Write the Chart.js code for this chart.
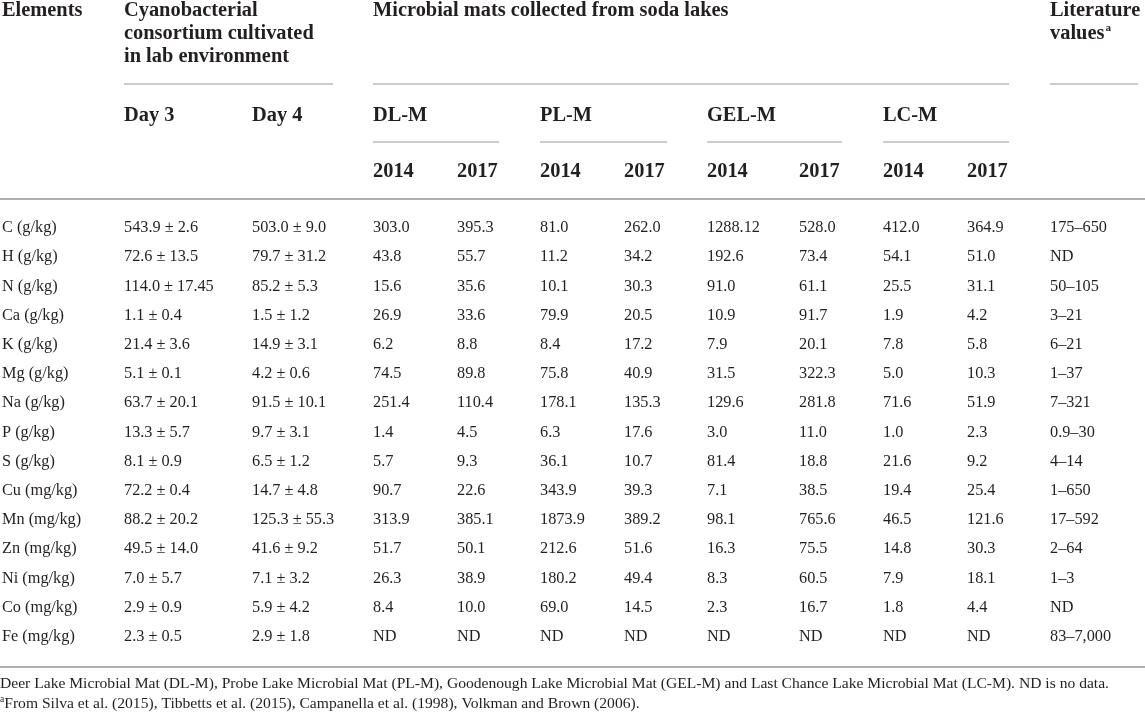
<!DOCTYPE html>
<html>
<head>
<meta charset="utf-8">
<script src="https://cdn.jsdelivr.net/npm/chart.js@4"></script>
<style>
  html, body { margin: 0; padding: 0; background: #ffffff; }
  #wrap { width: 1145px; height: 714px; position: relative; }
</style>
</head>
<body>
<div id="wrap"><canvas id="c" width="1145" height="714"></canvas></div>
<script>
// ---------------- DATA ----------------
const elements = ['C (g/kg)', 'H (g/kg)', 'N (g/kg)', 'Ca (g/kg)', 'K (g/kg)', 'Mg (g/kg)', 'Na (g/kg)',
  'P (g/kg)', 'S (g/kg)', 'Cu (mg/kg)', 'Mn (mg/kg)', 'Zn (mg/kg)', 'Ni (mg/kg)', 'Co (mg/kg)', 'Fe (mg/kg)'];

const day3 = ['543.9 ± 2.6', '72.6 ± 13.5', '114.0 ± 17.45', '1.1 ± 0.4', '21.4 ± 3.6', '5.1 ± 0.1',
  '63.7 ± 20.1', '13.3 ± 5.7', '8.1 ± 0.9', '72.2 ± 0.4', '88.2 ± 20.2', '49.5 ± 14.0', '7.0 ± 5.7',
  '2.9 ± 0.9', '2.3 ± 0.5'];
const day4 = ['503.0 ± 9.0', '79.7 ± 31.2', '85.2 ± 5.3', '1.5 ± 1.2', '14.9 ± 3.1', '4.2 ± 0.6',
  '91.5 ± 10.1', '9.7 ± 3.1', '6.5 ± 1.2', '14.7 ± 4.8', '125.3 ± 55.3', '41.6 ± 9.2', '7.1 ± 3.2',
  '5.9 ± 4.2', '2.9 ± 1.8'];
const dl2014 = ['303.0', '43.8', '15.6', '26.9', '6.2', '74.5', '251.4', '1.4', '5.7', '90.7', '313.9', '51.7', '26.3', '8.4', 'ND'];
const dl2017 = ['395.3', '55.7', '35.6', '33.6', '8.8', '89.8', '110.4', '4.5', '9.3', '22.6', '385.1', '50.1', '38.9', '10.0', 'ND'];
const pl2014 = ['81.0', '11.2', '10.1', '79.9', '8.4', '75.8', '178.1', '6.3', '36.1', '343.9', '1873.9', '212.6', '180.2', '69.0', 'ND'];
const pl2017 = ['262.0', '34.2', '30.3', '20.5', '17.2', '40.9', '135.3', '17.6', '10.7', '39.3', '389.2', '51.6', '49.4', '14.5', 'ND'];
const gel2014 = ['1288.12', '192.6', '91.0', '10.9', '7.9', '31.5', '129.6', '3.0', '81.4', '7.1', '98.1', '16.3', '8.3', '2.3', 'ND'];
const gel2017 = ['528.0', '73.4', '61.1', '91.7', '20.1', '322.3', '281.8', '11.0', '18.8', '38.5', '765.6', '75.5', '60.5', '16.7', 'ND'];
const lc2014 = ['412.0', '54.1', '25.5', '1.9', '7.8', '5.0', '71.6', '1.0', '21.6', '19.4', '46.5', '14.8', '7.9', '1.8', 'ND'];
const lc2017 = ['364.9', '51.0', '31.1', '4.2', '5.8', '10.3', '51.9', '2.3', '9.2', '25.4', '121.6', '30.3', '18.1', '4.4', 'ND'];
const literature = ['175–650', 'ND', '50–105', '3–21', '6–21', '1–37', '7–321', '0.9–30', '4–14', '1–650', '17–592', '2–64', '1–3', 'ND', '83–7,000'];

// header texts
const headElements = 'Elements';
const headCulture = ['Cyanobacterial', 'consortium cultivated', 'in lab environment'];
const headMats = 'Microbial mats collected from soda lakes';
const headLiterature = ['Literature', 'values'];
const cultureDays = ['Day 3', 'Day 4'];
const lakes = ['DL-M', 'PL-M', 'GEL-M', 'LC-M'];
const years = ['2014', '2017'];
const footnotes = [
  'Deer Lake Microbial Mat (DL-M), Probe Lake Microbial Mat (PL-M), Goodenough Lake Microbial Mat (GEL-M) and Last Chance Lake Microbial Mat (LC-M). ND is no data.',
  'From Silva et al. (2015), Tibbetts et al. (2015), Campanella et al. (1998), Volkman and Brown (2006).'
];

// column order of body data
const bodyColumns = [elements, day3, day4, dl2014, dl2017, pl2014, pl2017, gel2014, gel2017, lc2014, lc2017, literature];

// ---------------- LAYOUT (positions / styles only) ----------------
const colLeft = [2, 124, 252, 373, 457, 540, 624, 707, 799, 883, 967, 1050];  // x-scale units
const W = 1145;
const layout = {
  headBase: [16, 39, 62], subBase: 121, yearBase: 177,
  rule1: 84, rule2: 142, rule3: 199, rule4: 667,
  foot: [688, 708],
  cultureRule: [124, 333], matsRule: [373, 1009], litRule: [1050, 1138],
  lakeRuleEnd: [499, 667, 842, 1009],
  baselineShift: 5.6
};
const TEXT = '#231f20';
const RULE = '#9a9a9a';
const RULE_THICK = '#b0b0b0';
const SERIF = '"Liberation Serif", "DejaVu Serif", serif';
const fontHead = 'bold 20.4px ' + SERIF;
const fontBody = '16.3px ' + SERIF;
const fontFoot = '15.6px ' + SERIF;

const tablePlugin = {
  id: 'tablePlugin',
  afterDraw(chart) {
    const ctx = chart.ctx;
    const xs = chart.scales.x;
    const ys = chart.scales.y;
    const X = v => xs.getPixelForValue(v);
    ctx.save();
    ctx.fillStyle = TEXT;
    ctx.textBaseline = 'alphabetic';
    ctx.textAlign = 'left';

    function hline(y, x0, x1, color, w) {
      ctx.save();
      ctx.strokeStyle = color; ctx.lineWidth = w;
      ctx.beginPath(); ctx.moveTo(X(x0), y); ctx.lineTo(X(x1), y); ctx.stroke();
      ctx.restore();
    }

    // ----- header -----
    ctx.font = fontHead;
    ctx.fillText(headElements, X(colLeft[0]), layout.headBase[0]);
    headCulture.forEach((t, i) => ctx.fillText(t, X(colLeft[1]), layout.headBase[i]));
    ctx.fillText(headMats, X(colLeft[3]), layout.headBase[0]);
    ctx.fillText(headLiterature[0], X(colLeft[11]), layout.headBase[0]);
    ctx.fillText(headLiterature[1], X(colLeft[11]), layout.headBase[1]);
    const vw = ctx.measureText(headLiterature[1]).width;
    ctx.font = 'bold 11px ' + SERIF;
    ctx.fillText('a', X(colLeft[11]) + vw + 1, layout.headBase[1] - 8);

    hline(layout.rule1, layout.cultureRule[0], layout.cultureRule[1], RULE, 1.2);
    hline(layout.rule1, layout.matsRule[0], layout.matsRule[1], RULE, 1.2);
    hline(layout.rule1, layout.litRule[0], layout.litRule[1], RULE, 1.2);

    ctx.font = fontHead;
    cultureDays.forEach((t, i) => ctx.fillText(t, X(colLeft[1 + i]), layout.subBase));
    lakes.forEach((t, i) => {
      const c0 = 3 + i * 2;
      ctx.fillText(t, X(colLeft[c0]), layout.subBase);
      hline(layout.rule2, colLeft[c0], layout.lakeRuleEnd[i], RULE, 1.2);
      years.forEach((y, j) => ctx.fillText(y, X(colLeft[c0 + j]), layout.yearBase));
    });

    hline(layout.rule3, 0, W, RULE_THICK, 2);

    // ----- body -----
    ctx.font = fontBody;
    ctx.fillStyle = TEXT;
    elements.forEach((_, r) => {
      const y = ys.getPixelForValue(r) + layout.baselineShift;
      bodyColumns.forEach((col, c) => ctx.fillText(col[r], X(colLeft[c]), y));
    });

    hline(layout.rule4, 0, W, RULE_THICK, 2);

    // ----- footnotes -----
    ctx.font = fontFoot;
    ctx.fillText(footnotes[0], X(0), layout.foot[0]);
    ctx.font = '9.5px ' + SERIF;
    ctx.fillText('a', X(0), layout.foot[1] - 6);
    const aw = ctx.measureText('a').width;
    ctx.font = fontFoot;
    ctx.fillText(footnotes[1], X(0) + aw, layout.foot[1]);
    ctx.restore();
  }
};

new Chart(document.getElementById('c'), {
  type: 'bar',
  data: { labels: elements, datasets: [] },
  options: {
    responsive: false,
    animation: false,
    indexAxis: 'y',
    devicePixelRatio: 1,
    layout: { padding: { top: 212, bottom: 64, left: 0, right: 0 } },
    plugins: { legend: { display: false }, tooltip: { enabled: false } },
    scales: {
      x: { type: 'linear', min: 0, max: W, display: false },
      y: { type: 'category', labels: elements, offset: true, display: false }
    }
  },
  plugins: [tablePlugin]
});
</script>
</body>
</html>
